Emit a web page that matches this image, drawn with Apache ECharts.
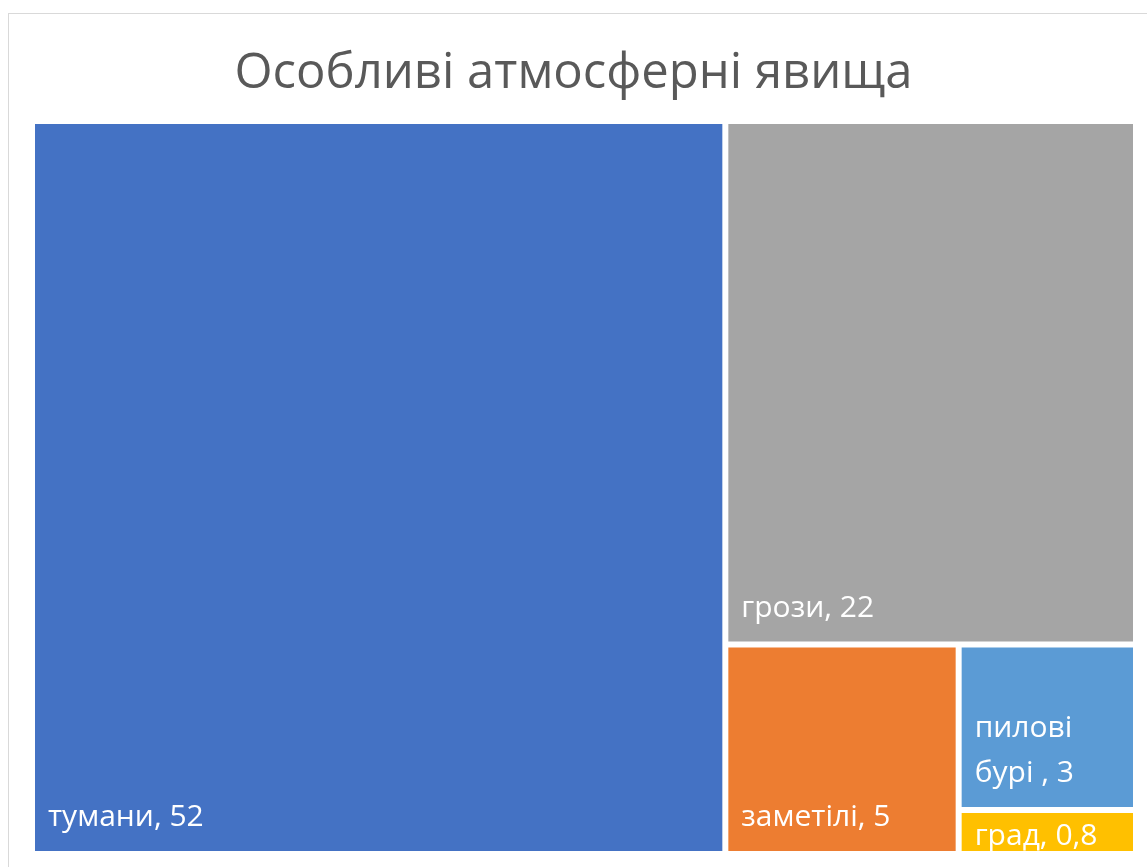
<!DOCTYPE html>
<html>
<head>
<meta charset="utf-8">
<script src="https://cdn.jsdelivr.net/npm/echarts@6/dist/echarts.min.js"></script>
<style>
  html, body { margin: 0; padding: 0; background: #fff; overflow: hidden; }
  #frame {
    position: absolute; left: 8px; top: 13px; width: 1200px; height: 900px;
    border-left: 1px solid #d9d9d9; border-top: 1px solid #d9d9d9;
  }
  #chart { position: absolute; left: 0; top: 0; width: 1147px; height: 867px; }
</style>
</head>
<body>
<div id="frame"></div>
<div id="chart"></div>
<script>
// Phenomena and their counts
const categories = ['тумани', 'грози', 'заметілі', 'пилові\nбурі ', 'град'];
const values = [52, 22, 5, 3, 0.8];
const valueLabels = ['52', '22', '5', '3', '0,8'];
const colors = ['#4472C4', '#A5A5A5', '#ED7D31', '#5B9BD5', '#FFC000'];

const chart = echarts.init(document.getElementById('chart'));

const data = categories.map((name, i) => {
  const item = {
    name: name,
    value: values[i],
    itemStyle: { color: colors[i] },
    valueText: valueLabels[i]
  };
  // the smallest cell is too short for the normal line box
  if (values[i] < 1) {
    item.label = { lineHeight: 30, padding: [0, 0, 0, 13] };
  }
  return item;
});

const option = {
  animation: false,
  title: {
    text: 'Особливі атмосферні явища',
    left: 'center',
    top: 45,
    textStyle: {
      color: '#595959',
      fontSize: 49,
      fontWeight: 'normal',
      fontFamily: '"Open Sans", sans-serif'
    }
  },
  series: [
    {
      type: 'treemap',
      left: 35,
      top: 124,
      width: 1098,
      height: 727,
      roam: false,
      nodeClick: false,
      breadcrumb: { show: false },
      squareRatio: 1,
      sort: false,
      levels: [
        { itemStyle: { gapWidth: 6, borderWidth: 0 } },
        { itemStyle: { borderWidth: 0, gapWidth: 0 } }
      ],
      label: {
        show: true,
        position: 'insideBottomLeft',
        color: '#fff',
        fontSize: 30,
        lineHeight: 45,
        fontFamily: '"Open Sans", sans-serif',
        padding: [0, 0, 11, 13],
        overflow: 'none',
        lineOverflow: 'none',
        formatter: function (p) {
          return p.name + ', ' + p.data.valueText;
        }
      },
      data: data
    }
  ]
};

chart.setOption(option);
</script>
</body>
</html>
